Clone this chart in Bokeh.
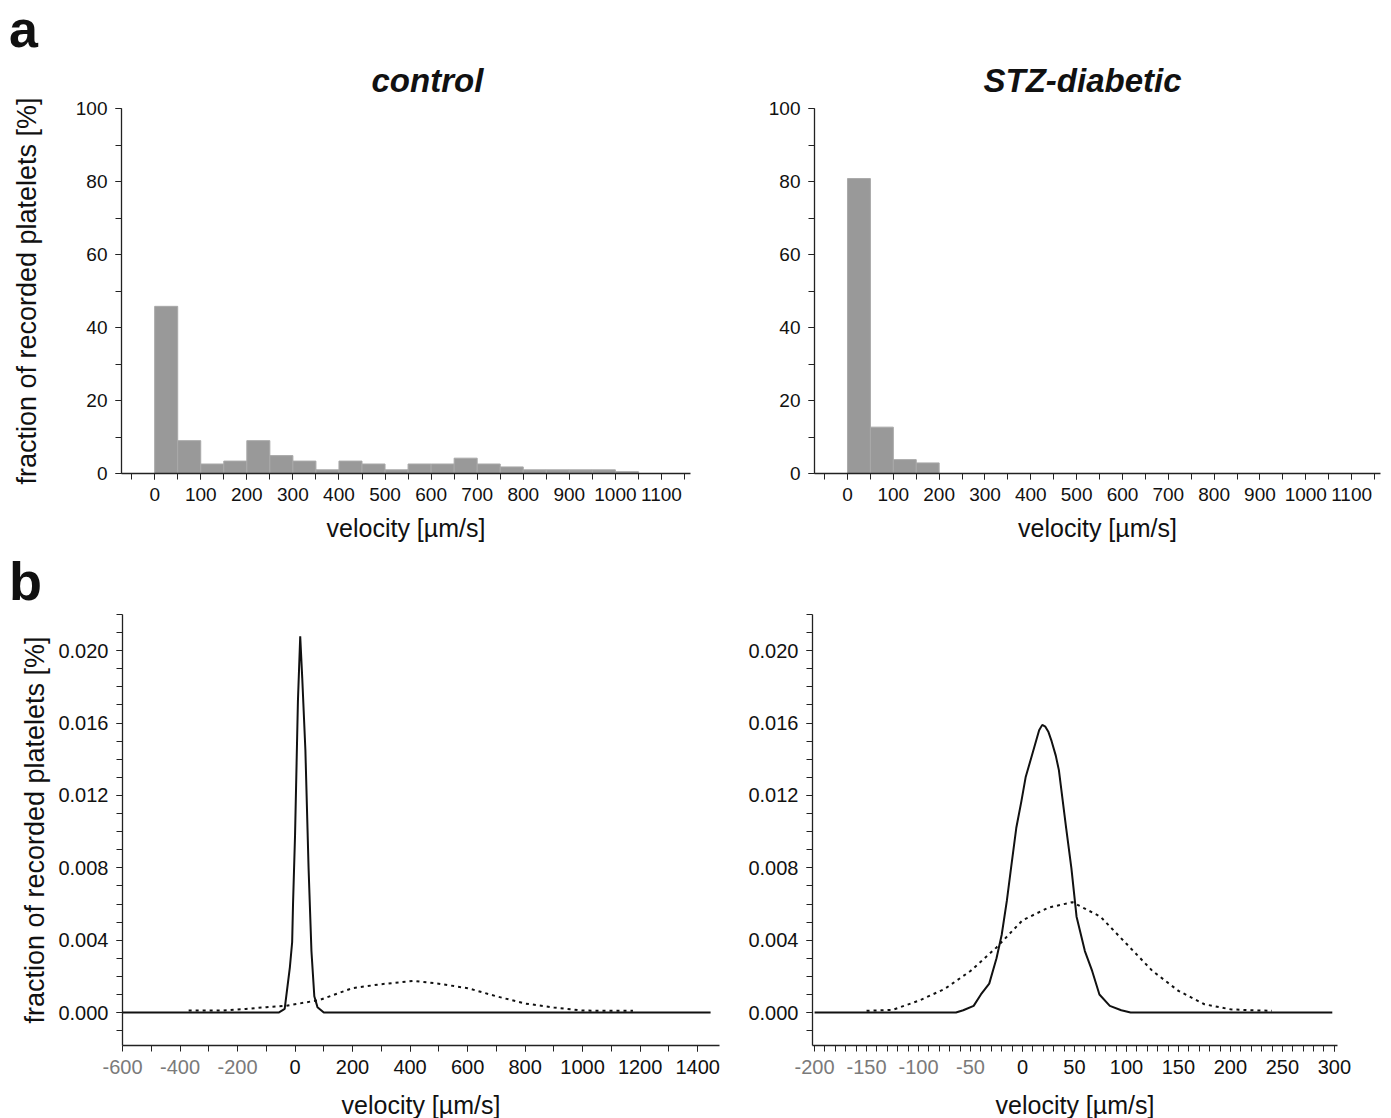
from bokeh.plotting import figure
from bokeh.layouts import column, row
from bokeh.models import (Range1d, SingleIntervalTicker, FixedTicker, PrintfTickFormatter,
                          Title, LinearAxis, Div)
from bokeh.embed import file_html
from bokeh.resources import INLINE

FONT = "Liberation Sans"

# ---------------- data ----------------
# panel a: histograms (bin width 50 µm/s)
bin_width = 50
control_bins = [0, 50, 100, 150, 200, 250, 300, 350, 400, 450, 500,
                550, 600, 650, 700, 750, 800, 850, 900, 950, 1000]
control_pct = [45.8, 9.0, 2.6, 3.4, 9.0, 4.9, 3.4, 1.0, 3.4, 2.6, 1.0,
               2.6, 2.6, 4.2, 2.6, 1.8, 1.0, 1.0, 1.0, 1.0, 0.5]
stz_bins = [0, 50, 100, 150]
stz_pct = [80.8, 12.7, 3.8, 2.9]

# panel b: fitted distributions
ctrl_solid_x = [-600, -57, -36, -18, -10, -7, 0, 10, 18, 25, 36, 47, 57, 67, 78, 100, 1445]
ctrl_solid_y = [0, 0, 0.0002, 0.0025, 0.0039, 0.006, 0.0098, 0.0172, 0.0208, 0.0185,
                0.0145, 0.008, 0.0034, 0.0009, 0.0003, 0, 0]
ctrl_dot_x = [-370, -250, -171, -100, -31, 86, 200, 300, 414, 485, 600, 700, 800, 900, 1000, 1100, 1175]
ctrl_dot_y = [0.00011, 0.00011, 0.0002, 0.0003, 0.00037, 0.0007, 0.00135, 0.00157, 0.00175,
              0.00163, 0.00135, 0.0009, 0.0005, 0.00028, 0.00011, 0.0001, 0.0001]

stz_solid_x = [-200, -64, -57, -47, -40, -32, -25, -20, -15, -11, -6, -1, 3, 8, 12, 16, 19, 22,
               25, 28, 32, 35, 42, 47, 52, 60, 67, 74, 84, 95, 104, 298]
stz_solid_y = [0, 0, 0.00013, 0.00037, 0.001, 0.0016, 0.003, 0.0043, 0.0062, 0.008, 0.0102,
               0.0117, 0.013, 0.014, 0.0148, 0.0156, 0.0159, 0.0158, 0.0155, 0.015, 0.0142,
               0.0134, 0.0102, 0.008, 0.0053, 0.0034, 0.0023, 0.001, 0.00037, 0.00013, 0, 0]
stz_dot_x = [-150, -125, -100, -75, -50, -25, 0, 25, 48, 75, 100, 125, 150, 175, 200, 220, 240]
stz_dot_y = [0.0001, 0.00015, 0.00065, 0.0013, 0.0023, 0.0036, 0.0051, 0.0058, 0.0061, 0.0053,
             0.0038, 0.0023, 0.0012, 0.00046, 0.00018, 0.00013, 0.0001]

# tick labels
ctrl_b_ticks = [-600, -400, -200, 0, 200, 400, 600, 800, 1000, 1200, 1400]
stz_b_ticks = [-200, -150, -100, -50, 0, 50, 100, 150, 200, 250, 300]

AXIS_COLOR = "#222222"
TOP_LETTER_H = 40
MID_LETTER_H = 50


def base_style(p, tick_size):
    p.outline_line_color = None
    p.border_fill_color = None
    p.xgrid.visible = False
    p.ygrid.visible = False
    for ax in (p.xaxis[0], p.yaxis[0]):
        ax.axis_line_color = AXIS_COLOR
        ax.axis_line_width = 1.3
        ax.major_tick_line_color = AXIS_COLOR
        ax.minor_tick_line_color = AXIS_COLOR
        ax.major_tick_in = 0
        ax.minor_tick_in = 0
        ax.major_tick_out = 6
        ax.minor_tick_out = 6
        ax.major_label_text_font = FONT
        ax.major_label_text_font_size = tick_size
        ax.major_label_text_color = "#111111"
        ax.major_label_standoff = 8
        ax.axis_label_text_font = FONT
        ax.axis_label_text_font_size = "25px"
        ax.axis_label_text_font_style = "normal"
        ax.axis_label_text_color = "#111111"
    p.yaxis.axis_label_text_font_size = "27px"


def hist_fig(bins, pct, title_text, title_offset, left, right, fw, ylabel):
    p = figure(frame_width=fw, frame_height=365, x_range=Range1d(-72, 1163), y_range=Range1d(0, 100),
               min_border_left=left, min_border_right=right, min_border_top=108 - TOP_LETTER_H,
               min_border_bottom=80, output_backend="svg", toolbar_location=None)
    centers = [b + bin_width / 2 for b in bins]
    p.vbar(x=centers, width=bin_width, top=pct, bottom=0,
           fill_color="#999999", line_color="#a9a9a9", line_width=1)
    base_style(p, "19px")
    p.xaxis.ticker = SingleIntervalTicker(interval=100, num_minor_ticks=2)
    p.yaxis.ticker = SingleIntervalTicker(interval=20, num_minor_ticks=2)
    p.xaxis.axis_label = "velocity [µm/s]"
    p.xaxis.axis_label_standoff = 10
    if ylabel:
        p.yaxis.axis_label = ylabel
        p.yaxis.axis_label_standoff = 31
    t = Title(text=title_text, align="left", offset=title_offset, text_font=FONT,
              text_font_size="33px", text_font_style="bold italic", text_color="#111111", standoff=19)
    p.add_layout(t, "above")
    return p


def dist_fig(sx, sy, dx, dy, xr, ticks, interval, nminor, left, right, fw, ylabel):
    p = figure(frame_width=fw, frame_height=431, x_range=Range1d(*xr), y_range=Range1d(-0.00182, 0.022),
               min_border_left=left, min_border_right=right, min_border_top=61 - MID_LETTER_H,
               min_border_bottom=73, output_backend="svg", toolbar_location=None)
    p.line(dx, dy, line_color="#111111", line_width=2, line_dash="3 4")
    p.line(sx, sy, line_color="#111111", line_width=2)
    base_style(p, "20px")
    pos = [t for t in ticks if t >= 0]
    neg = [t for t in ticks if t < 0]
    step = interval / nminor
    lo, hi = ticks[0], ticks[-1]
    n = int(round((hi - lo) / step))
    minor = [lo + i * step for i in range(n + 1)]
    p.xaxis.ticker = FixedTicker(ticks=pos, minor_ticks=minor)
    p.yaxis.ticker = SingleIntervalTicker(interval=0.004, num_minor_ticks=4)
    p.yaxis.formatter = PrintfTickFormatter(format="%.3f")
    # second axis carrying the grey negative tick labels and the axis title
    ax2 = LinearAxis(ticker=FixedTicker(ticks=neg, minor_ticks=[]),
                     formatter=PrintfTickFormatter(format="%d"),
                     axis_line_color=None, major_tick_line_color=None, minor_tick_line_color=None,
                     major_tick_out=0, minor_tick_out=0, major_tick_in=0, minor_tick_in=0,
                     major_label_standoff=-17, major_label_text_font=FONT,
                     major_label_text_font_size="20px", major_label_text_color="#7a7a7a",
                     axis_label="velocity [µm/s]", axis_label_standoff=14,
                     axis_label_text_font=FONT, axis_label_text_font_size="25px",
                     axis_label_text_font_style="normal", axis_label_text_color="#111111")
    p.add_layout(ax2, "below")
    if ylabel:
        p.yaxis.axis_label = ylabel
        p.yaxis.axis_label_standoff = 5
    return p


def letter_div(letter, h, size, line_h):
    return Div(text=('<div style="font-family:\'Liberation Sans\';font-weight:bold;font-size:%dpx;'
                     'line-height:%dpx;color:#111111;padding-left:9px;margin:0;">%s</div>')
               % (size, line_h, letter),
               width=1391, height=h, margin=0, styles={"overflow": "visible"})


YLAB = "fraction of recorded platelets [%]"
f1 = hist_fig(control_bins, control_pct, "control", 250, 121, 10, 569, YLAB)
f2 = hist_fig(stz_bins, stz_pct, "STZ-diabetic", 169, 114, 11, 566, None)
f3 = dist_fig(ctrl_solid_x, ctrl_solid_y, ctrl_dot_x, ctrl_dot_y, (-600, 1476), ctrl_b_ticks,
              200, 2, 122, 10, 597, YLAB)
f4 = dist_fig(stz_solid_x, stz_solid_y, stz_dot_x, stz_dot_y, (-202, 303), stz_b_ticks,
              50, 5, 83, 54, 525, None)

layout = column(letter_div("a", TOP_LETTER_H, 52, 59), row(f1, f2),
                letter_div("b", MID_LETTER_H, 54, 56), row(f3, f4), spacing=0)
open("out.html", "w").write(file_html(layout, INLINE))
